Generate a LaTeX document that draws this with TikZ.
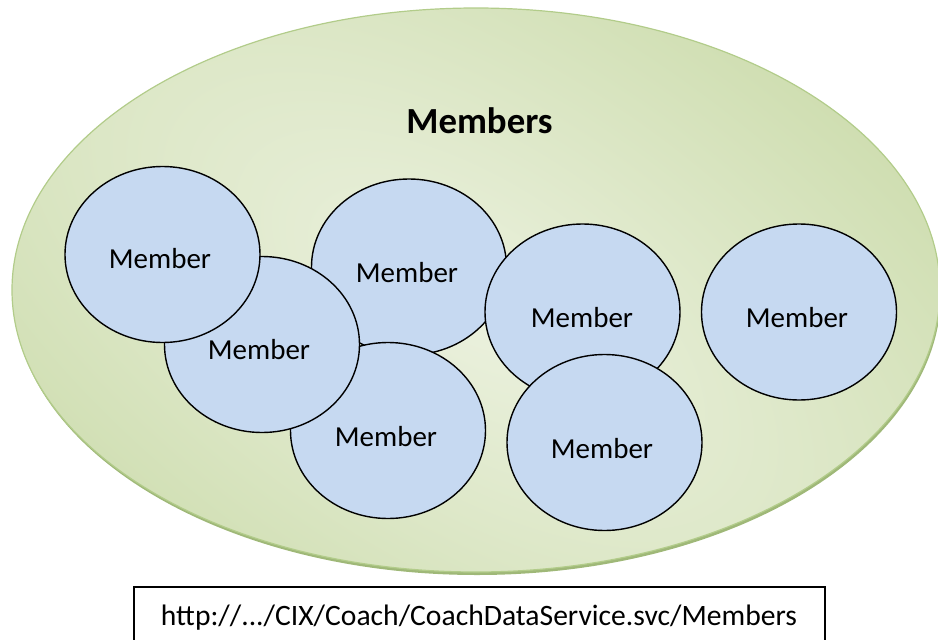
\documentclass[tikz,border=0pt]{standalone}
\usepackage{fontspec}
\setmainfont{Carlito}
\definecolor{bglight}{HTML}{EBF1DE}
\definecolor{bgdark}{HTML}{C2D59C}
\definecolor{bgborder}{HTML}{B2CC8A}
\definecolor{bgshadow}{HTML}{9FB878}
\definecolor{memberfill}{HTML}{C6D9F1}
\tikzset{
  member/.style={draw=black, line width=1.4pt, fill=memberfill},
  memberlabel/.style={anchor=base, inner sep=0pt, font=\fontsize{29}{30}\selectfont},
}
\begin{document}
\begin{tikzpicture}[x=1pt, y=-1pt]
\useasboundingbox (0,0) rectangle (938,640);
\clip (0,0) rectangle (938,640);
% outer ellipse with soft shadow at the lower right
\begin{scope}
  \clip (0,300) rectangle (938,640);
  \fill[bgshadow] (477,293) ellipse [x radius=464, y radius=282];
\end{scope}
\begin{scope}
  \clip (476,290) ellipse [x radius=464, y radius=282];
  \begin{scope}[transform canvas={rotate around={-33:(470,310)}}]
    \shade[inner color=bglight, outer color=bgdark]
      (470,310) ellipse [x radius=1150, y radius=560];
  \end{scope}
\end{scope}
\draw[bgborder, line width=1.2pt] (476,290) ellipse [x radius=464, y radius=282];
\coordinate (outer) at (476,290);
\node[anchor=base, inner sep=0pt, font=\bfseries\fontsize{36.8}{38}\selectfont] (title) at (479.5,133) {Members};
% member circles (drawing order gives overlaps)
\draw[member] (409,267) ellipse [x radius=97.5, y radius=88];
\node[memberlabel] (lc) at (407,282) {Member};
\draw[member] (582.5,312) ellipse [x radius=97.5, y radius=88];
\node[memberlabel] (ld) at (582,327) {Member};
\draw[member] (388,430.5) ellipse [x radius=97.5, y radius=88];
\node[memberlabel] (lf) at (386,446) {Member};
\draw[member] (604.5,442.5) ellipse [x radius=97.5, y radius=88];
\node[memberlabel] (lg) at (602,458) {Member};
\draw[member] (262,344.5) ellipse [x radius=97.5, y radius=88];
\node[memberlabel] (lb) at (259,359) {Member};
\draw[member] (162.5,254.5) ellipse [x radius=97.5, y radius=88];
\node[memberlabel] (la) at (160,268) {Member};
\draw[member] (799,312) ellipse [x radius=97.5, y radius=88];
\node[memberlabel] (le) at (797,327) {Member};
% url box
\draw[black, line width=1.4pt] (134,587) rectangle (825,660);
\node[anchor=base, inner sep=0pt, font=\fontsize{29.6}{31}\selectfont] (url) at (479,625) {http://.{}.{}./CIX/Coach/CoachDataService.svc/Members};
\end{tikzpicture}
\end{document}
